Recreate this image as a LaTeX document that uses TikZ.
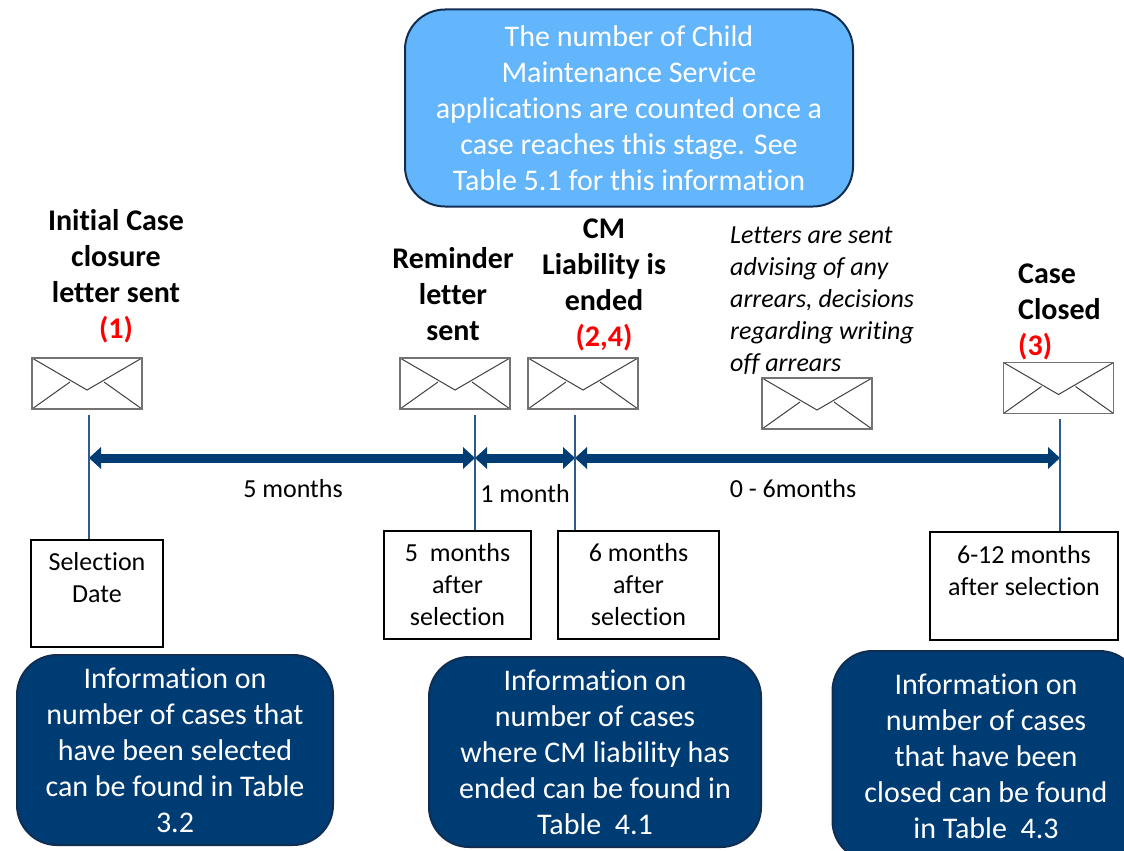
\documentclass[tikz,border=0pt]{standalone}
\usepackage{fontspec}
\setmainfont{Carlito}[Ligatures={NoRequired,NoCommon,NoContextual,NoRare}, Contextuals=NoAlternate, RawFeature={-liga;-clig;-rlig;-dlig;-calt}]
\usepackage{tikz}
\usetikzlibrary{arrows.meta}
\definecolor{navy}{HTML}{003C74}
\definecolor{navyline}{HTML}{112E52}
\definecolor{skyfill}{HTML}{63B5FC}
\definecolor{tickblue}{HTML}{2F5B8C}

\begin{document}
\begin{tikzpicture}[x=1pt, y=-1pt,
	big/.style={font=\fontsize{30}{36}\selectfont},
	small/.style={font=\fontsize{26}{32}\selectfont},
	head/.style={font=\fontsize{30}{36}\selectfont\bfseries, align=center, inner sep=0pt},
	note/.style={font=\fontsize{26}{32}\selectfont\itshape, align=left, inner sep=0pt, anchor=west},
	envelope/.style={draw=gray!90!black, line width=1.8pt, fill=white, minimum width=110pt, minimum height=51pt, inner sep=0pt,
		path picture={\draw[line width=1pt, black!75] (path picture bounding box.north west) -- ++(55pt,-32pt) -- (path picture bounding box.north east);
			\draw[line width=1pt, black!75] (path picture bounding box.south west) -- ++(38pt,27pt);
			\draw[line width=1pt, black!75] (path picture bounding box.south east) -- ++(-38pt,27pt);}},
	datebox/.style={draw, line width=1.2pt, small, align=center, inner sep=0pt},
	infobox/.style={draw=navyline, line width=2pt, fill=navy, rounded corners=40pt, text=white, big, align=center, inner sep=0pt},
	tick/.style={tickblue, line width=1.2pt},
	span/.style={navy, line width=9pt, {Triangle[width=22pt,length=12pt,line width=0pt]}-{Triangle[width=22pt,length=12pt,line width=0pt]}}
	]
	\useasboundingbox (0,0) rectangle (1124,851);
	\clip (0,0) rectangle (1124,851);

	\node[infobox, fill=skyfill, minimum width=448pt, minimum height=197pt] (stage) at (629,108) {The number of Child\\Maintenance Service\\applications are counted once a\\case reaches this stage. See\\Table 5.1 for this information};

	\node[head] (headA) at (116,276) {Initial Case\\closure\\letter sent\\\textcolor{red}{(1)}};
	\node[head] (headB) at (453,294) {Reminder\\letter\\sent};
	\node[head] (headC) at (604,285) {CM\\Liability is\\ended\\\textcolor{red}{(2,4)}};
	\node[head, align=left, anchor=west] (headE) at (1018,312) {Case\\Closed\\\textcolor{red}{(3)}};
	\node[note] (noteD) at (730,300.5) {Letters are sent\\advising of any\\arrears, decisions\\regarding writing\\off arrears};

	\foreach \name/\x/\y in {envA/87/383.5, envB/455/383.5, envC/583/383.5, envD/817/403.5, envE/1058.5/388}
		\node[envelope] (\name) at (\x,\y) {};

	\coordinate (tA) at (89,458);
	\coordinate (tB) at (475,458);
	\coordinate (tC) at (575,458);
	\coordinate (tE) at (1060,458);

	\node[datebox, minimum width=132pt, minimum height=107pt] (dateA) at (97,593.5) {Selection\\Date\\[-10pt]\strut};
	\node[datebox, minimum width=147pt, minimum height=108pt] (dateB) at (457.5,585) {5\ \ months\\after\\selection};
	\node[datebox, minimum width=161pt, minimum height=108pt] (dateC) at (638.5,585) {6 months\\after\\selection};
	\node[datebox, minimum width=188pt, minimum height=108pt] (dateE) at (1024,586) {6-12 months\\after selection\\[-10pt]\strut};

	\draw[span] (tA) -- (tB);
	\draw[span] (tB) -- (tC);
	\draw[span] (tC) -- (tE);
	\foreach \t/\e/\d in {tA/envA/dateA, tB/envB/dateB, tC/envC/dateC, tE/envE/dateE}
		\draw[tick] ([yshift=-5pt]\e.south -| \t) -- (\t |- \d.north);

	\node[small] (lenAB) at (293,489) {5 months};
	\node[small] (lenBC) at (525,494) {1 month};
	\node[small] (lenCE) at (793,489) {0 - 6months};

	\node[infobox, minimum width=316pt, minimum height=190pt] (infoA) at (175,750) {Information on\\number of cases that\\have been selected\\can be found in Table\\3.2};
	\node[infobox, minimum width=332pt, minimum height=190pt] (infoC) at (595,752) {Information on\\number of cases\\where CM liability has\\ended can be found in\\Table\ \ 4.1};
	\node[infobox, minimum width=307pt, minimum height=210pt] (infoE) at (986,756) {Information on\\number of cases\\that have been\\closed can be found\\in Table\ \ 4.3};
\end{tikzpicture}
\end{document}
